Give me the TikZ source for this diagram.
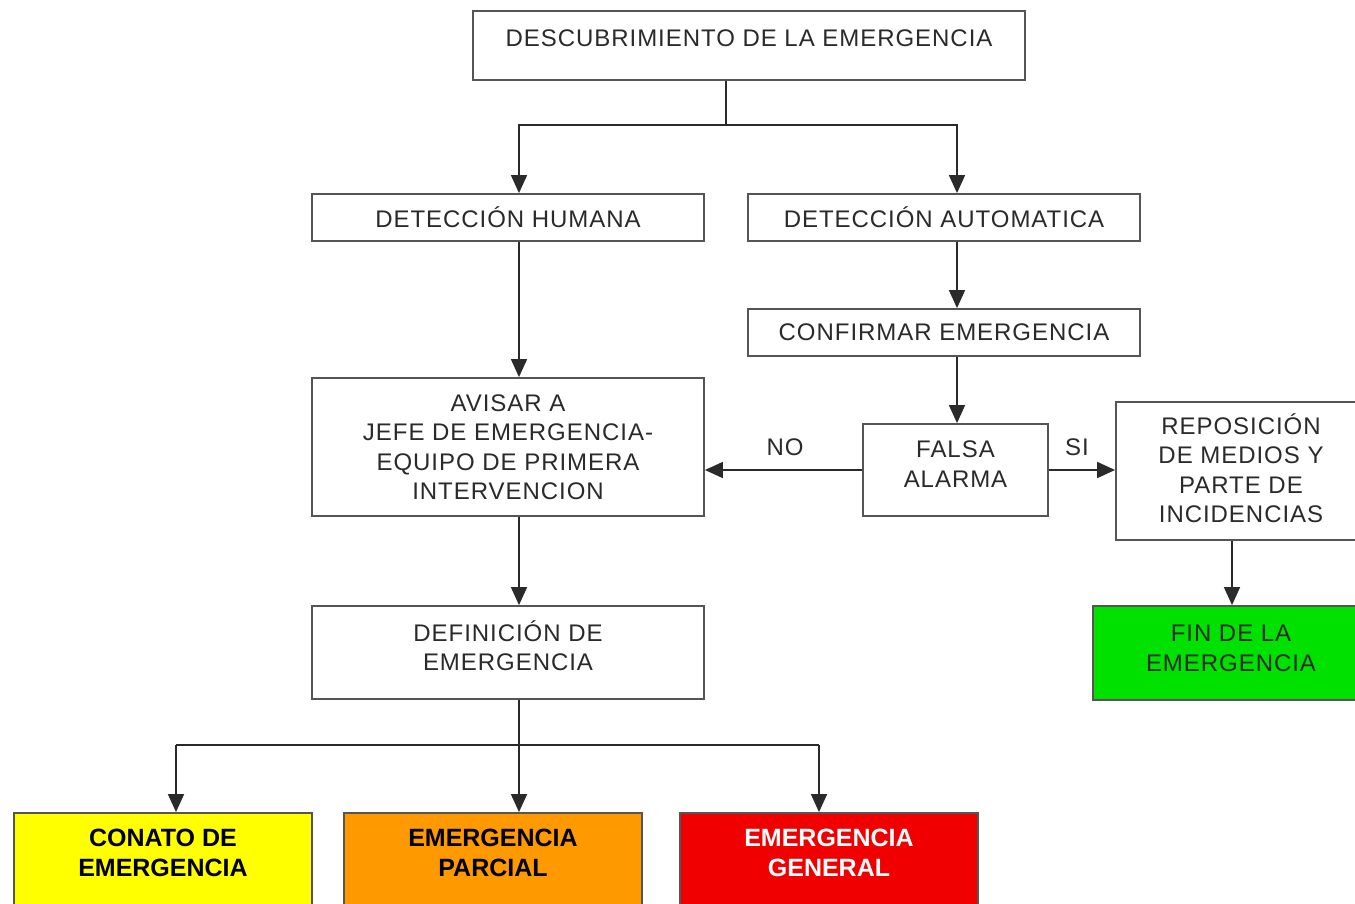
\documentclass[tikz,border=0pt]{standalone}
\usepackage{fontspec}
\setmainfont{Liberation Sans}
\newfontfamily\regfont[LetterSpace=4]{Liberation Sans}
\usetikzlibrary{arrows.meta}
\definecolor{edge}{HTML}{555555}
\definecolor{ink}{HTML}{2A2A2A}
\definecolor{cfin}{RGB}{0,225,0}
\definecolor{cyel}{RGB}{255,255,0}
\definecolor{corg}{RGB}{255,153,0}
\definecolor{cred}{RGB}{240,0,0}
\tikzset{
  box/.style={draw=edge, line width=0.9pt, fill=white, rectangle, inner sep=0pt,
    align=center, text=ink, font=\regfont\fontsize{12}{14.75}\selectfont},
  bigbox/.style={box, font=\fontsize{12.5}{15}\selectfont\bfseries},
  conn/.style={draw=ink, line width=0.8pt},
  arr/.style={conn, -{Triangle[length=9pt,width=8pt]}},
  lbl/.style={text=ink, font=\regfont\fontsize{12}{14}\selectfont, inner sep=0pt}
}
\begin{document}
\begin{tikzpicture}[x=0.5pt,y=-0.5pt]
\useasboundingbox (0,0) rectangle (1355,904);
\clip (0,0) rectangle (1355,904);
\fill[white] (0,0) rectangle (1355,904);

% nodes
\node[box, minimum width=276pt, minimum height=34.5pt, text height=9pt, text depth=8pt] (top) at (749,45.5) {DESCUBRIMIENTO DE LA EMERGENCIA};
\node[box, minimum width=196pt, minimum height=23.5pt] (dh) at (508,217.5) {DETECCIÓN HUMANA};
\node[box, minimum width=196pt, minimum height=23.5pt] (da) at (944,217.5) {DETECCIÓN AUTOMATICA};
\node[box, minimum width=196pt, minimum height=23.5pt] (conf) at (944,332.5) {CONFIRMAR EMERGENCIA};
\node[box, minimum width=196pt, minimum height=69pt] (avisar) at (508,447) {AVISAR A\\JEFE DE EMERGENCIA-\\EQUIPO DE PRIMERA\\INTERVENCION};
\node[box, minimum width=92.5pt, minimum height=46pt, text depth=6pt] (falsa) at (955.5,470) {FALSA\\ALARMA};
\node[box, minimum width=125pt, minimum height=69pt, text depth=3pt] (repos) at (1241,471) {REPOSICIÓN\\DE MEDIOS Y\\PARTE DE\\INCIDENCIAS};
\node[box, fill=cfin, minimum width=138pt, minimum height=47pt, text depth=5pt] (fin) at (1231,653) {FIN DE LA\\EMERGENCIA};
\node[box, minimum width=196pt, minimum height=46.5pt, text depth=7pt] (def) at (508,652.5) {DEFINICIÓN DE\\EMERGENCIA};
\node[bigbox, fill=cyel, text=black, minimum width=149pt, minimum height=47pt, text depth=7pt] (conato) at (163,860) {CONATO DE\\EMERGENCIA};
\node[bigbox, fill=corg, text=black, minimum width=149pt, minimum height=47pt, text depth=7pt] (parcial) at (493,860) {EMERGENCIA\\PARCIAL};
\node[bigbox, fill=cred, text=white, minimum width=149pt, minimum height=47pt, text depth=7pt] (general) at (829,860) {EMERGENCIA\\GENERAL};

% labels
\node[lbl] (no) at (785,447) {NO};
\node[lbl] (si) at (1077,447) {SI};

% junction coordinates
\coordinate (j1) at (726,125);
\coordinate (jl) at (519,125);
\coordinate (jr) at (957,125);
\coordinate (xh) at (519,0);
\coordinate (xa) at (957,0);
\coordinate (xr) at (1232,0);
\coordinate (j2) at (519,745);
\coordinate (bl) at (176,745);
\coordinate (br) at (819,745);

% connectors
\draw[conn] (j1 |- top.south) -- (j1);
\draw[arr] (j1) -- (jl) -- (jl |- dh.north);
\draw[arr] (j1) -- (jr) -- (jr |- da.north);
\draw[arr] (xh |- dh.south) -- (xh |- avisar.north);
\draw[arr] (xa |- da.south) -- (xa |- conf.north);
\draw[arr] (xa |- conf.south) -- (xa |- falsa.north);
\draw[arr] (falsa.west) -- (falsa.west -| avisar.east);
\draw[arr] (falsa.east) -- (falsa.east -| repos.west);
\draw[arr] (xr |- repos.south) -- (xr |- fin.north);
\draw[arr] (xh |- avisar.south) -- (xh |- def.north);
\draw[conn] (xh |- def.south) -- (j2);
\draw[conn] (bl) -- (br);
\draw[arr] (bl) -- (bl |- conato.north);
\draw[arr] (j2) -- (j2 |- parcial.north);
\draw[arr] (br) -- (br |- general.north);
\end{tikzpicture}
\end{document}
